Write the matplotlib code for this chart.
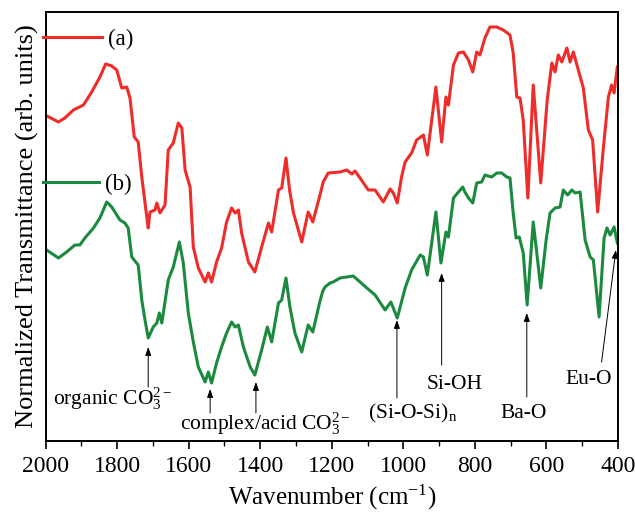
import matplotlib
matplotlib.use("Agg")
import matplotlib.pyplot as plt

plt.rcParams['font.family'] = ['Liberation Serif', 'DejaVu Serif']
plt.rcParams['mathtext.fontset'] = 'custom'
plt.rcParams['mathtext.rm'] = 'Liberation Serif'
plt.rcParams['mathtext.it'] = 'Liberation Serif:italic'
plt.rcParams['mathtext.bf'] = 'Liberation Serif:bold'

# FTIR spectra (wavenumber in cm-1, transmittance in arbitrary units)
wn_a = [1996, 1964, 1946, 1922, 1894, 1871, 1848, 1832, 1815, 1801, 1787, 1773, 1764,
        1752, 1741, 1731, 1717, 1713, 1708, 1694, 1689, 1680, 1666, 1657, 1643, 1629,
        1619, 1610, 1596, 1587, 1573, 1554, 1545, 1536, 1522, 1508, 1494, 1480, 1470,
        1461, 1452, 1433, 1415, 1396, 1377, 1368, 1349, 1340, 1328, 1318, 1307, 1284,
        1266, 1253, 1233, 1224, 1210, 1177, 1158, 1144, 1135, 1121, 1098, 1079, 1056,
        1037, 1028, 1017, 1005, 995, 977, 963, 944, 933, 909, 893, 881, 874, 860, 846,
        832, 818, 806, 795, 786, 772, 758, 739, 721, 702, 693, 683, 674, 665, 652, 637,
        616, 598, 585, 576, 567, 557, 543, 534, 525, 511, 497, 483, 471, 457, 441, 427,
        418, 411, 402]
tr_a = [325, 319, 323, 331, 336, 349, 364, 377, 375, 371, 353, 354, 343,
        304, 299, 264, 224, 213, 229, 231, 238, 228, 236, 291, 298, 318,
        313, 271, 254, 194, 173, 159, 168, 159, 179, 193, 219, 233, 228,
        231, 208, 179, 169, 194, 218, 209, 251, 253, 283, 251, 228, 199,
        229, 219, 246, 259, 268, 269, 271, 267, 270, 263, 251, 251, 239,
        252, 248, 238, 264, 279, 288, 301, 306, 286, 354, 299, 344, 336, 376, 388,
        389, 381, 369, 389, 386, 403, 414, 414, 411, 406, 388, 344, 343, 321, 243, 356,
        258, 341, 378, 369, 386, 379, 393, 379, 389, 371, 353, 311, 301, 229, 293, 344,
        356, 348, 374]

wn_b = [1997, 1964, 1941, 1918, 1904, 1890, 1866, 1848, 1829, 1815, 1792, 1778, 1769,
        1759, 1741, 1731, 1722, 1713, 1699, 1689, 1682, 1675, 1657, 1643, 1626, 1615,
        1610, 1601, 1587, 1573, 1554, 1545, 1536, 1522, 1508, 1494, 1480, 1470, 1461,
        1447, 1428, 1415, 1396, 1380, 1368, 1349, 1340, 1328, 1317, 1303, 1284, 1266,
        1253, 1233, 1225, 1219, 1205, 1196, 1177, 1158, 1140, 1121, 1102, 1079, 1051,
        1035, 1017, 995, 977, 953, 944, 933, 909, 895, 881, 874, 860, 846, 834, 828,
        818, 806, 795, 781, 772, 753, 739, 725, 711, 702, 693, 685, 676, 665, 654, 637,
        616, 601, 590, 576, 562, 553, 541, 529, 520, 506, 492, 478, 469, 453, 439, 431,
        422, 411, 402]
tr_b = [191, 183, 189, 196, 196, 203, 213, 223, 239, 234, 221, 218, 213,
        184, 176, 141, 121, 103, 114, 118, 128, 118, 161, 174, 199, 178,
        160, 128, 99, 74, 59, 69, 58, 78, 94, 108, 119, 114, 116,
        94, 74, 66, 91, 114, 99, 138, 141, 163, 134, 108, 89, 116,
        109, 140, 150, 154, 158, 159, 163, 164, 165, 159, 153, 146, 131,
        139, 123, 153, 171, 186, 184, 166, 229, 178, 209, 204, 243, 249, 254, 249,
        243, 238, 258, 259, 266, 264, 268, 268, 264, 263, 228, 203, 204, 188, 136, 219,
        153, 201, 228, 233, 234, 251, 246, 251, 248, 249, 201, 184, 181, 124, 203, 213,
        206, 214, 198]

labels = ["(a)", "(b)"]
colors = ["#EE2D2A", "#1B8A3F"]

# band assignments: text, text position (x, y), arrow tip, arrow tail
bands = [
    ("organic CO$_3^{2-}$", (1979, 36), [((1713, 94), (1713, 54))]),
    ("complex/acid CO$_3^{2-}$", (1624, 11), [((1540, 52), (1540, 28)),
                                             ((1412, 59), (1412, 28))]),
    ("(Si-O-Si)$_\\mathrm{n}$", (1099, 23), [((1018, 121), (1018, 43))]),
    ("Si-OH", (935, 52), [((893, 168), (893, 76))]),
    ("Ba-O", (730, 23), [((655, 128), (655, 44))]),
    ("Eu-O", (548, 57), [((406, 191), (446, 79))]),
]

fig = plt.figure(figsize=(6.35, 5.15), dpi=100)
ax = fig.add_axes([0.0717, 0.1437, 0.9016, 0.833])

line_a, = ax.plot(wn_a, tr_a, color=colors[0], lw=2.2, solid_joinstyle='round')
line_b, = ax.plot(wn_b, tr_b, color=colors[1], lw=2.2, solid_joinstyle='round')

for text, pos, arrows in bands:
    ax.text(pos[0], pos[1], text, fontsize=15.5, ha='left', va='baseline')
    for tip, tail in arrows:
        ax.annotate("", xy=tip, xytext=tail,
                    arrowprops=dict(arrowstyle='-|>,head_length=0.5,head_width=0.18',
                                    color='black', lw=0.7, shrinkA=0, shrinkB=0))

leg_a = ax.legend([line_a], [labels[0]], loc='center left', bbox_to_anchor=(-0.005, 0.935),
                  frameon=False, fontsize=16.5, handlelength=2.6, handletextpad=0.25,
                  borderpad=0, borderaxespad=0)
ax.add_artist(leg_a)
ax.legend([line_b], [labels[1]], loc='center left', bbox_to_anchor=(-0.005, 0.597),
          frameon=False, fontsize=16.5, handlelength=2.45, handletextpad=0.25,
          borderpad=0, borderaxespad=0)

ax.set_xlim(2000, 400)
ax.set_ylim(0, 429)
ax.set_xticks(range(2000, 399, -200))
ax.set_xticks(range(1900, 400, -200), minor=True)
ax.tick_params(axis='x', which='major', direction='out', length=6, width=1.2,
               labelsize=17, top=False, pad=5)
ax.tick_params(axis='x', which='minor', direction='out', length=3.5, width=1.0, top=False)
ax.set_yticks([])
for s in ax.spines.values():
    s.set_linewidth(1.4)

ax.set_xlabel("Wavenumber (cm$^{-1}$)", fontsize=18, labelpad=4)
ax.set_ylabel("Normalized Transmittance (arb. units)", fontsize=19, labelpad=5)

fig.savefig("out.png", dpi=100)
